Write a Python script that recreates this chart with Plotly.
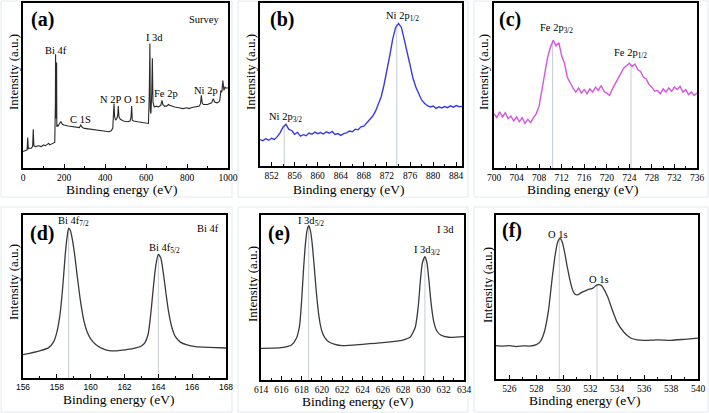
import numpy as np
import plotly.graph_objects as go

# ---------------- data ----------------
# (a) survey spectrum
survey_x = [0, 10, 20, 23, 26, 30, 40, 47, 50, 53, 60, 75, 90, 100, 110, 120, 125, 130, 140, 150,
            155, 158, 159, 160, 163, 164, 165, 168, 172, 178, 185, 192, 200, 220, 240, 260, 275, 282,
            285, 290, 300, 330, 360, 380, 400, 420, 430, 438, 441, 444, 447, 452, 458, 462, 465, 468,
            475, 490, 510, 522, 527, 530, 533, 540, 560, 580, 600, 612, 616, 619, 621, 624, 628, 631,
            634, 640, 650, 660, 672, 678, 682, 690, 700, 710, 715, 725, 740, 760, 780, 800, 810, 820,
            840, 860, 866, 870, 874, 880, 900, 920, 928, 935, 945, 955, 960, 965, 970, 975, 980, 985,
            990, 1000]
survey_y = [10, 10.5, 11, 18.5, 11.5, 12, 12, 13, 23.5, 13.5, 13, 13.5, 13, 14, 13.5, 14.5, 15, 14, 14.5, 15,
            15.5, 40, 69, 30, 35, 64, 25, 26, 25.5, 27, 28, 26.5, 26, 25.5, 25, 24.5, 24.5, 26,
            25.5, 24.5, 24, 23.5, 23, 22.5, 22, 22, 22.5, 24, 32, 39, 31, 29, 30, 32, 37.5, 31,
            29.5, 28.5, 28, 28.5, 31, 37.5, 29, 28.5, 28, 27.5, 27, 27, 45, 75.5, 35, 33, 45, 66.5,
            40, 37, 37.5, 37, 38, 41, 38.5, 37.5, 37.5, 38.5, 38, 37.5, 37, 36.5, 36, 36.5, 36, 36.5,
            37, 37.5, 39, 44, 39.5, 38.5, 38.5, 39.5, 42, 40, 39.5, 40, 41, 47, 46, 53, 47, 49,
            48.5, 48.5]

# (b) Ni 2p
ni_x = np.arange(850, 885.01, 0.5)
ni_y = [16.2, 15.5, 16.8, 15.8, 17, 16.3, 18, 20.5, 24, 25.5, 22.5, 21.8, 19.5, 20.6, 18.3, 19.2,
        18.6, 20.2, 19.5, 20.8, 19.8, 20.5, 19.6, 20.9, 20.1, 21.2, 19.4, 19.9, 18.8, 19.9, 20.3,
        21.5, 21, 22.6, 22.2, 24, 24.4, 26.5, 28, 30.5, 33.5, 37.5, 42.5, 50, 58.5, 68, 78, 85,
        87.5, 85, 77.5, 69, 61, 54, 48.5, 44, 40.5, 38.5, 37, 36.2, 36.8, 35.4, 36.3, 35.6, 36.5,
        35.8, 36.9, 36.1, 37.1, 36.4, 36.6]
ni_peaks = [854.2, 873.7]
ni_peak_h = [25, 87]

# (c) Fe 2p
fe_x = np.arange(700, 736.01, 0.5)
fe_y = [33, 30.5, 34, 31, 33.5, 30, 31.5, 28.5, 31, 28, 30.5, 27, 29.5, 27.5, 30.5, 33, 37.5, 47,
        59, 67, 73, 77.5, 74, 76, 68, 63.5, 55, 51.5, 48.5, 46, 48.5, 45.5, 47.5, 45, 48, 46, 49,
        47, 50, 46.5, 45, 44, 48, 51, 54.5, 57, 60.5, 62, 63.5, 61.5, 63, 59.5, 58.5, 55, 54, 50.5,
        49, 46.5, 47, 45, 48, 46, 48.5, 46.5, 49, 47.5, 49.5, 46, 47.5, 44.5, 46, 44, 45.5]
fe_peaks = [710.4, 724.3]
fe_peak_h = [76, 63]

# (d) Bi 4f
bi_x = [156, 157, 157.5, 157.8, 158, 158.2, 158.35, 158.5, 158.6, 158.7, 158.8, 158.9, 159.05,
        159.2, 159.4, 159.6, 159.8, 160, 160.3, 160.6, 161, 161.5, 162, 162.5, 163, 163.2, 163.4,
        163.55, 163.7, 163.85, 164, 164.15, 164.3, 164.45, 164.6, 164.8, 165, 165.3, 165.7,
        166.2, 167, 168]
bi_y = [14.3, 16.7, 18.5, 22, 28, 40, 56, 76, 86, 92, 90.5, 86, 76, 63, 47, 35, 28, 24, 20.5,
        18.5, 17, 16.6, 17.3, 18, 19.6, 21.5, 27, 39, 55, 69, 75.8, 73.5, 64, 52, 41, 31, 25.5,
        22, 20.3, 19.3, 18.8, 18.4]
bi_peaks = [158.7, 164.0]
bi_peak_h = [92, 75.8]

# (e) I 3d
i_x = [614, 616, 617, 617.5, 617.8, 618, 618.2, 618.4, 618.55, 618.7, 618.85, 619, 619.2, 619.4,
       619.6, 619.8, 620, 620.3, 620.7, 621.2, 622, 624, 626, 628, 628.7, 629.2, 629.5, 629.7,
       629.9, 630.15, 630.35, 630.55, 630.75, 631, 631.3, 631.7, 632.5, 634]
i_y = [19.2, 19.6, 21.2, 25.5, 33, 48, 68, 84, 91, 93.5, 91, 85, 72, 57, 44, 35, 29.5, 25.5, 23,
       21.8, 20.8, 21.6, 22.6, 24.2, 26, 32, 45, 60, 71, 74.7, 71, 60, 47, 36, 30, 27.3, 25.9,
       26.3]
i_peaks = [618.7, 630.15]
i_peak_h = [93.5, 74.7]

# (f) O 1s
o_x = [525, 525.5, 526, 526.5, 527, 527.5, 528, 528.3, 528.6, 528.9, 529.15, 529.4, 529.6,
       529.75, 529.9, 530.1, 530.3, 530.5, 530.7, 530.9, 531.1, 531.4, 531.8, 532.2, 532.5, 532.8,
       533.0, 533.3, 533.6, 534, 534.5, 535, 535.5, 536, 537, 538, 539, 540]
o_y = [20.3, 20.0, 20.4, 19.8, 20.2, 20.1, 21, 23, 29, 42, 60, 76, 84, 85.8, 84, 77, 68, 60, 54,
       51.5, 51.5, 53, 54.4, 55.4, 57.4, 57.2, 55, 50, 43, 34.5, 28.5, 25, 23.8, 23.5, 23.9, 23.6,
       24.2, 24.9]
o_peaks = [529.7, 532.5]
o_peak_h = [85.6, 57.4]

# ---------------- layout helpers ----------------
W, H = 709, 413
SERIF = '"Liberation Serif", "Times New Roman", Times, "DejaVu Serif", serif'
SANS = '"Liberation Sans", Arial, sans-serif'


def fx(p):
    return p / W


def fy(p):
    return 1 - p / H


panels = [
    # name, x-range, plot box (left, right, top, bottom) px, tick0, dtick, minor, tickfont
    ("a", [0, 1000], (23, 228, 3, 168), 0, 200, 100, SERIF),
    ("b", [850, 885], (260, 462, 3, 166), 852, 4, 2, SERIF),
    ("c", [700, 736], (494, 697, 3, 168), 700, 4, 2, SERIF),
    ("d", [156, 168], (23, 226, 215, 378), 156, 2, 1, SANS),
    ("e", [614, 634], (261, 464, 215, 380), 614, 2, 1, SERIF),
    ("f", [525, 540], (496, 698, 215, 379), 526, 2, 1, SERIF),
]

fig = go.Figure()
layout = dict(
    width=W, height=H, margin=dict(l=0, r=0, t=0, b=0, autoexpand=False),
    paper_bgcolor="white", plot_bgcolor="white", showlegend=False,
    font=dict(family=SERIF, color="black"),
)
annotations = []
shapes = []

for i, (name, xr, (l, r, t, b), t0, dt, mdt, tfont) in enumerate(panels):
    k = "" if i == 0 else str(i + 1)
    layout["xaxis" + k] = dict(
        domain=[fx(l), fx(r)], range=xr, anchor="y" + k, automargin=False,
        showline=True, linecolor="black", linewidth=1.5, mirror=True,
        ticks="inside", ticklen=4, tickwidth=1, tickcolor="black",
        tick0=t0, dtick=dt,
        minor=dict(ticks="inside", ticklen=2, dtick=mdt, tick0=xr[0], tickcolor="black"),
        showgrid=False, zeroline=False,
        tickfont=dict(family=tfont, size=9.5 if tfont == SERIF else 8.5, color="black"),
    )
    layout["yaxis" + k] = dict(
        domain=[fy(b), fy(t)], range=[0, 100], anchor="x" + k, automargin=False,
        showline=True, linecolor="black", linewidth=1.5, mirror=True,
        ticks="", showticklabels=False, showgrid=False, zeroline=False,
    )

traces = [
    (survey_x, survey_y, "#2a2a2a", 1.1),
    (ni_x, ni_y, "#3a3ae8", 1.4),
    (fe_x, fe_y, "#d455e0", 1.4),
    (bi_x, bi_y, "#3a3a3a", 1.3),
    (i_x, i_y, "#3a3a3a", 1.3),
    (o_x, o_y, "#3a3a3a", 1.3),
]
peak_sets = [None, (ni_peaks, ni_peak_h), (fe_peaks, fe_peak_h), (bi_peaks, bi_peak_h),
             (i_peaks, i_peak_h), (o_peaks, o_peak_h)]

for i, ((xs, ys, col, lw), pk) in enumerate(zip(traces, peak_sets)):
    k = "" if i == 0 else str(i + 1)
    if pk is not None:
        for px_, ph in zip(*pk):
            fig.add_trace(go.Scatter(x=[px_, px_], y=[0, ph], mode="lines",
                                     line=dict(color="#c5ccd4", width=1),
                                     xaxis="x" + k, yaxis="y" + k, hoverinfo="skip"))
    smooth = i >= 3
    fig.add_trace(go.Scatter(x=xs, y=ys, mode="lines",
                             line=dict(color=col, width=lw,
                                       shape="spline" if smooth else "linear",
                                       smoothing=0.6 if smooth else None),
                             xaxis="x" + k, yaxis="y" + k))


def ann(x, y, text, size=11, bold=False, family=SERIF, angle=0):
    annotations.append(dict(
        x=fx(x), y=fy(y), xref="paper", yref="paper", text=("<b>%s</b>" % text) if bold else text,
        showarrow=False, xanchor="center", yanchor="middle", textangle=angle,
        font=dict(family=family, size=size, color="black")))


# panel letters
for lbl, x, y in [("(a)", 42, 20), ("(b)", 282, 20), ("(c)", 510, 20),
                  ("(d)", 42, 233), ("(e)", 279, 233), ("(f)", 512, 231)]:
    ann(x, y, lbl, size=20, bold=True)

# axis titles
for x, y in [(121, 189), (348, 189), (582, 189), (118, 399), (357, 401), (584, 400)]:
    ann(x, y, "Binding energy (eV)", size=13.5)
for x, y in [(13, 72), (250, 72), (483, 72), (13, 282), (252, 284), (487, 285)]:
    ann(x, y, "Intensity (a.u.)", size=13, angle=-90)

# peak labels
ann(204, 19, "Survey", size=10.5)
ann(56, 50, "Bi 4f", size=10.5)
ann(154, 38, "I 3d", size=10.5)
ann(80, 119, "C 1S", size=10.5)
ann(110, 99, "N 2P", size=10.5)
ann(134, 99, "O 1S", size=10.5)
ann(166, 94, "Fe 2p", size=10.5)
ann(206, 90, "Ni 2p", size=10.5)

ann(285, 117, "Ni 2p<sub>3/2</sub>", size=10.5)
ann(402, 17, "Ni 2p<sub>1/2</sub>", size=10.5)
ann(556, 29, "Fe 2p<sub>3/2</sub>", size=10.5)
ann(630, 53, "Fe 2p<sub>1/2</sub>", size=10.5)

ann(73, 222, "Bi 4f<sub>7/2</sub>", size=10.5)
ann(164, 249, "Bi 4f<sub>5/2</sub>", size=10.5)
ann(208, 228, "Bi 4f", size=10.5)

ann(311, 222, "I 3d<sub>5/2</sub>", size=10.5)
ann(427, 250, "I 3d<sub>3/2</sub>", size=10.5)
ann(445, 229, "I 3d", size=10.5)

ann(558, 234, "O 1s", size=10.5)
ann(599, 279, "O 1s", size=10.5)

# faint panel frames
for (x0, x1) in [(1, 232), (238, 468), (474, 708)]:
    for (y0, y1) in [(1, 197), (207, 412)]:
        shapes.append(dict(type="rect", xref="paper", yref="paper",
                           x0=fx(x0), x1=fx(x1), y0=fy(y1), y1=fy(y0),
                           line=dict(color="#e3eaed", width=1), layer="below"))

layout["annotations"] = annotations
layout["shapes"] = shapes
fig.update_layout(**layout)
fig.write_html(
    "out.html",
    config={"displayModeBar": False},
    post_script="document.body.style.margin='0px';document.body.style.padding='0px';"
                "document.body.style.overflow='hidden';",
)
